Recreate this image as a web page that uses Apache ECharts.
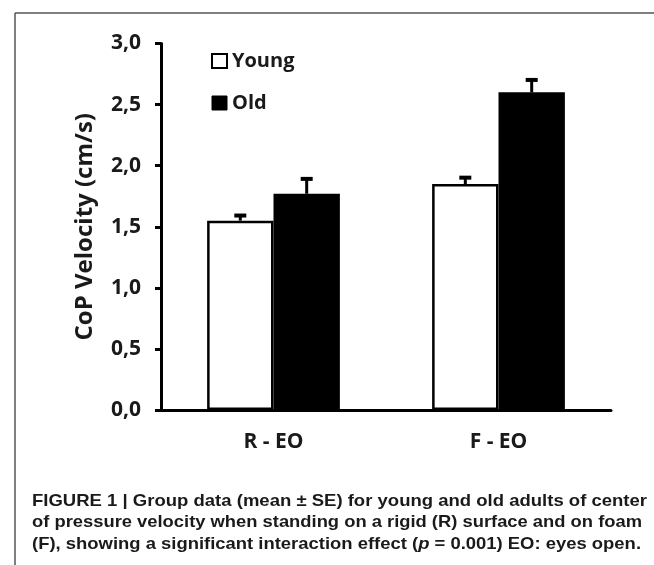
<!DOCTYPE html>
<html>
<head>
<meta charset="utf-8">
<script src="https://cdn.jsdelivr.net/npm/echarts@6/dist/echarts.min.js"></script>
<style>
html,body{margin:0;padding:0;background:#fff;}
#chart{width:654px;height:565px;}
</style>
</head>
<body>
<div id="chart"></div>
<script>
// ---- data ----
const categories = ['R - EO', 'F - EO'];
const seriesNames = ['Young', 'Old'];
const youngMean = [1.55, 1.85];
const youngSE = [0.05, 0.06];
const oldMean = [1.77, 2.60];
const oldSE = [0.13, 0.11];
const yMin = 0, yMax = 3, yStep = 0.5;
const axisTitle = 'CoP Velocity (cm/s)';
const captionLine1 = 'FIGURE 1 | Group data (mean \u00b1 SE) for young and old adults of center';
const captionLine2 = 'of pressure velocity when standing on a rigid (R) surface and on foam';
const captionLine3a = '(F), showing a significant interaction effect (';
const captionLine3b = 'p';
const captionLine3c = ' = 0.001) EO: eyes open.';

// ---- style ----
const FONT = '"Open Sans", "Liberation Sans", sans-serif';
const CAPFONT = '"Liberation Sans", Arial, sans-serif';
const TEXT = '#1a1a1a';
const BAR_FRAC = 0.295;

const chart = echarts.init(document.getElementById('chart'), null, {renderer: 'canvas'});

function errRender(sign) {
  return function (params, api) {
    const cat = api.value(0), mean = api.value(1), se = api.value(2);
    const base = api.coord([cat, mean]);
    const top = api.coord([cat, mean + se]);
    const bw = api.size([1, 0])[0] * BAR_FRAC;
    const x = base[0] + sign * bw / 2;
    return {
      type: 'group',
      children: [
        {type: 'line', shape: {x1: x, y1: base[1], x2: x, y2: top[1]}, style: {stroke: '#000', lineWidth: 3}},
        {type: 'line', shape: {x1: x - 6, y1: top[1] + 1, x2: x + 6, y2: top[1] + 1}, style: {stroke: '#000', lineWidth: 4}}
      ]
    };
  };
}

// caption measuring
const mctx = document.createElement('canvas').getContext('2d');
function w(text, font) { mctx.font = font; return mctx.measureText(text).width; }
const CAP_SIZE = 16.5;
const capBold = 'bold ' + CAP_SIZE + 'px ' + CAPFONT;
const capItal = 'italic bold ' + CAP_SIZE + 'px ' + CAPFONT;
const capLeft = 32;
const l1w = w(captionLine1, capBold);
const l2w = w(captionLine2, capBold);
const l3w = w(captionLine3a, capBold) + w(captionLine3b, capItal) + w(captionLine3c, capBold);

const option = {
  backgroundColor: '#fff',
  animation: false,
  grid: {left: 161, right: 43, top: 43.5, bottom: 155, containLabel: false},
  legend: {
    orient: 'vertical',
    left: 211,
    top: 51,
    padding: 0,
    itemWidth: 15,
    itemHeight: 14,
    itemGap: 22,
    textStyle: {fontFamily: FONT, fontWeight: 'bold', fontSize: 20, color: TEXT, lineHeight: 20},
    data: [
      {name: seriesNames[0], icon: 'rect', itemStyle: {color: '#fff', borderColor: '#000', borderWidth: 2}},
      {name: seriesNames[1], icon: 'rect', itemStyle: {color: '#000', borderColor: '#000', borderWidth: 1}}
    ]
  },
  xAxis: {
    type: 'category',
    data: categories,
    axisLine: {lineStyle: {color: '#000', width: 3}},
    axisTick: {show: false},
    axisLabel: {fontFamily: FONT, fontWeight: 'bold', fontSize: 21, color: TEXT, margin: 22},
    splitLine: {show: false}
  },
  yAxis: {
    type: 'value',
    min: yMin, max: yMax, interval: yStep,
    name: axisTitle,
    nameLocation: 'middle',
    nameRotate: 90,
    nameGap: 64,
    nameTextStyle: {fontFamily: FONT, fontWeight: 'bold', fontSize: 24, color: TEXT},
    axisLine: {show: true, lineStyle: {color: '#000', width: 3}},
    axisTick: {show: true, length: 6, lineStyle: {color: '#000', width: 3}},
    axisLabel: {
      fontFamily: FONT, fontWeight: 'bold', fontSize: 21, color: TEXT, margin: 20,
      formatter: v => v.toFixed(1).replace('.', ',')
    },
    splitLine: {show: false}
  },
  series: [
    {
      name: seriesNames[0], type: 'bar', data: youngMean, barWidth: (BAR_FRAC * 100) + '%', barGap: '0%',
      itemStyle: {color: '#fff', borderColor: '#000', borderWidth: 2.5}, z: 2
    },
    {
      name: seriesNames[1], type: 'bar', data: oldMean, barWidth: (BAR_FRAC * 100) + '%', barGap: '0%',
      itemStyle: {color: '#000', borderColor: '#000', borderWidth: 2.5}, z: 2
    },
    {
      type: 'custom', name: 'youngErr', renderItem: errRender(-1), z: 3,
      data: categories.map((c, i) => [i, youngMean[i], youngSE[i]])
    },
    {
      type: 'custom', name: 'oldErr', renderItem: errRender(1), z: 3,
      data: categories.map((c, i) => [i, oldMean[i], oldSE[i]])
    }
  ],
  graphic: [
    {type: 'line', shape: {x1: 15, y1: 13, x2: 654, y2: 13}, style: {stroke: '#555', lineWidth: 1.5}, silent: true},
    {type: 'line', shape: {x1: 15, y1: 13, x2: 15, y2: 565}, style: {stroke: '#555', lineWidth: 1.5}, silent: true},
    {type: 'text', x: capLeft, y: 501, scaleX: 615 / l1w,
      style: {text: captionLine1, font: capBold, fill: TEXT, verticalAlign: 'middle'}},
    {type: 'text', x: capLeft, y: 522.6, scaleX: 610 / l2w,
      style: {text: captionLine2, font: capBold, fill: TEXT, verticalAlign: 'middle'}},
    {type: 'text', x: capLeft, y: 544.2, scaleX: 609 / l3w,
      style: {
        text: captionLine3a + '{i|' + captionLine3b + '}' + captionLine3c,
        font: capBold, fill: TEXT, verticalAlign: 'middle',
        rich: {i: {font: capItal, fill: TEXT}}
      }}
  ]
};
chart.setOption(option);
</script>
</body>
</html>
